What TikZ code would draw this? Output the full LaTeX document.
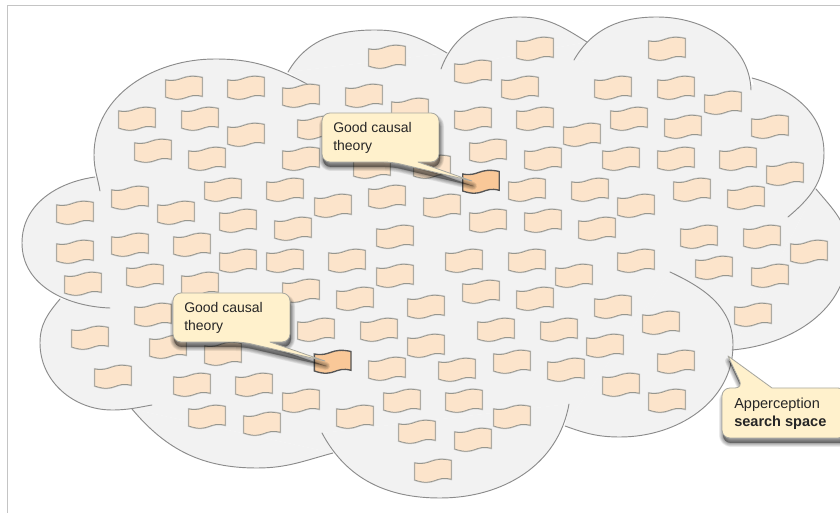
\documentclass[tikz,border=0pt]{standalone}
\usepackage{fontspec}
\setmainfont{Liberation Sans}
\definecolor{cloudfill}{HTML}{F2F2F2}
\definecolor{cloudline}{HTML}{8C8C8C}
\definecolor{flagfill}{HTML}{FCE4CB}
\definecolor{flagline}{HTML}{96968E}
\definecolor{herofill}{HTML}{F9C898}
\definecolor{heroline}{HTML}{555555}
\definecolor{calloutfill}{HTML}{FFF1CC}
\definecolor{calloutline}{HTML}{A8A8A0}
\definecolor{frameline}{HTML}{C4C4C4}
\tikzset{
  x=0.75pt,y=-0.75pt,
  lobefill/.style={fill=cloudfill,draw=none},
  lobeline/.style={draw=cloudline,line width=0.7pt,line cap=round},
  calloutbody/.style={fill=calloutfill,draw=calloutline,line width=0.6pt,line join=round},
  callouttext/.style={anchor=west,align=left,inner sep=0pt,text=black!85},
}
% lobes of the cloud (angles are canvas angles)
\def\lobeA{(95,177) to[out=188,in=90] (22,243) to[out=-90,in=178] (110,308)}
\def\lobeB{(100,191) to[out=100,in=-90] (94,155) to[out=90,in=180] (215,59) to[out=0,in=152] (307,84)}
\def\lobeC{(288,72) to[out=60,in=180] (375,30) to[out=0,in=150] (447,53)}
\def\lobeD{(441,69) to[out=70,in=180] (520,17) to[out=0,in=148] (587,42)}
\def\lobeE{(574,60) to[out=60,in=180] (657,17) to[out=0,in=92] (751,90)}
\def\lobeF{(752,78) to[out=-15,in=90] (824,153) to[out=-90,in=40] (788,217)}
\def\lobeG{(816,189) to[out=-50,in=90] (848,250) to[out=-90,in=5] (732,350)}
\def\lobeH{(670,272) to[out=-25,in=90] (733,345) to[out=-90,in=0] (620,437) to[out=180,in=-20] (565,426)}
\def\lobeI{(569,404) to[out=-100,in=0] (440,498) to[out=180,in=-62] (322,433)}
\def\lobeJ{(333,453) to[out=-165,in=0] (257,468) to[out=180,in=-50] (132,409)}
\def\lobeK{(152,405) to[out=-170,in=0] (112,410) to[out=180,in=-90] (40,343) to[out=90,in=-130] (60,299)}
% flag outline around the current origin
\def\flagpath{(-18.3,-8) .. controls (-2,-5) and (-2,-15) .. (18.3,-10.5) -- (18.3,8.3) .. controls (2,4) and (2,16) .. (-18.3,9) -- cycle}
% soft shadow: stacked widening strokes of a path given as #1
\newcommand{\softshadow}[1]{%
  \foreach \w in {8,6.5,5,3.5,2,0.8}{%
    \fill[black,line join=round,draw=black,line width=\w*0.75pt,draw opacity=0.075,fill opacity=0.075] #1;
  }%
}
\begin{document}
\begin{tikzpicture}
\useasboundingbox (0,0) rectangle (840,513);
\clip (0,0) rectangle (840,513);
\fill[white] (0,0) rectangle (840,513);
\draw[frameline,line width=0.8pt] (7.5,513) -- (7.5,5.5) -- (840,5.5);
% cloud fill
\foreach \l in {\lobeA,\lobeB,\lobeC,\lobeD,\lobeE,\lobeF,\lobeG,\lobeH,\lobeI,\lobeJ,\lobeK}{
  \fill[lobefill] \l -- cycle;
}
\fill[cloudfill] (90,180) -- (90,300) -- (110,308) -- (60,299) -- (132,409) -- (333,453) -- (322,433) -- (569,404) -- (565,426) -- (670,272) -- (732,350) -- (816,189) -- (800,160) -- (760,85) -- (740,85) -- (574,60) -- (587,42) -- (441,69) -- (447,53) -- (288,72) -- (307,84) -- cycle;
\foreach \l in {\lobeA,\lobeB,\lobeC,\lobeD,\lobeE,\lobeF,\lobeG,\lobeH,\lobeI,\lobeJ,\lobeK}{
  \draw[lobeline] \l;
}
% flags
\foreach \fx/\fy in {387/57,184/88,246/88,301/96,364/96,410/110,137/119,200/119,246/135,316/128,153/151,207/159,301/159,372/167,
223/190,285/190,387/197,333/206,130/198,176/213,75/213,238/221,293/229,395/237,130/245,75/252,192/245,238/261,285/261,347/261,
83/284,145/276,200/284,395/276,301/291,355/299,153/315,426/307,316/330,379/330,90/338,168/347,223/354,426/346,387/369,113/377,
192/385,254/385,301/401,402/401,207/417,262/424,355/417,417/432,433/471,
535/49,667/49,473/72,520/88,613/88,676/88,723/103,473/119,535/119,629/119,683/127,770/127,582/135,488/151,543/159,621/159,676/159,738/159,785/174,
527/190,590/190,692/190,746/198,442/206,636/206,488/221,543/221,597/229,699/237,762/237,809/252,464/261,527/261,636/261,
714/268,770/276,574/276,481/292,535/299,613/307,661/323,753/315,496/330,559/330,605/346,457/370,512/362,566/370,676/362,621/385,464/401,667/401,512/417,473/440,
432/167}{
  \begin{scope}[shift={(\fx,\fy)}]
    \draw[black!22,line width=1.4pt] \flagpath;
    \fill[flagfill] \flagpath;
    \draw[flagline,line width=0.55pt] \flagpath;
  \end{scope}
}
% callout 1
\begin{scope}[shift={(481,182)}]
  \fill[herofill] \flagpath;
  \draw[heroline,line width=1pt] \flagpath;
\end{scope}
\def\calloutA{[rounded corners=6pt] (439,138) -- (439,113) -- (322,113) -- (322,162) -- (392,162) [sharp corners] -- (472,181) -- (418,162) [rounded corners=6pt] -- (439,162) -- cycle}
\begin{scope}[shift={(1,5)}]\softshadow{\calloutA}\end{scope}
\path[calloutbody] \calloutA;
\node[callouttext,font=\fontsize{10.5pt}{13.5pt}\selectfont] (ta) at (333,138) {Good causal\\theory};
% callout 2
\begin{scope}[shift={(332.7,362)}]
  \fill[herofill] \flagpath;
  \draw[heroline,line width=1pt] \flagpath;
\end{scope}
\def\calloutB{[rounded corners=6pt] (290,318) -- (290,293) -- (173,293) -- (173,342) -- (243,342) [sharp corners] -- (325,361) -- (270,342) [rounded corners=6pt] -- (290,342) -- cycle}
\begin{scope}[shift={(1,5)}]\softshadow{\calloutB}\end{scope}
\path[calloutbody] \calloutB;
\node[callouttext,font=\fontsize{10.5pt}{13.5pt}\selectfont] (tb) at (184,318) {Good causal\\theory};
% callout 3
\def\calloutC{[rounded corners=6pt] (722,412) -- (722,388) -- (743,388) [sharp corners] -- (728,356) -- (772,388) [rounded corners=6pt] -- (846,388) -- (846,438) -- (722,438) -- cycle}
\begin{scope}[shift={(1,5)}]\softshadow{\calloutC}\end{scope}
\path[calloutbody] \calloutC;
\node[callouttext,font=\fontsize{10.9pt}{13.5pt}\selectfont] (tc) at (734,414) {Apperception\\\textbf{search space}};
\end{tikzpicture}
\end{document}
